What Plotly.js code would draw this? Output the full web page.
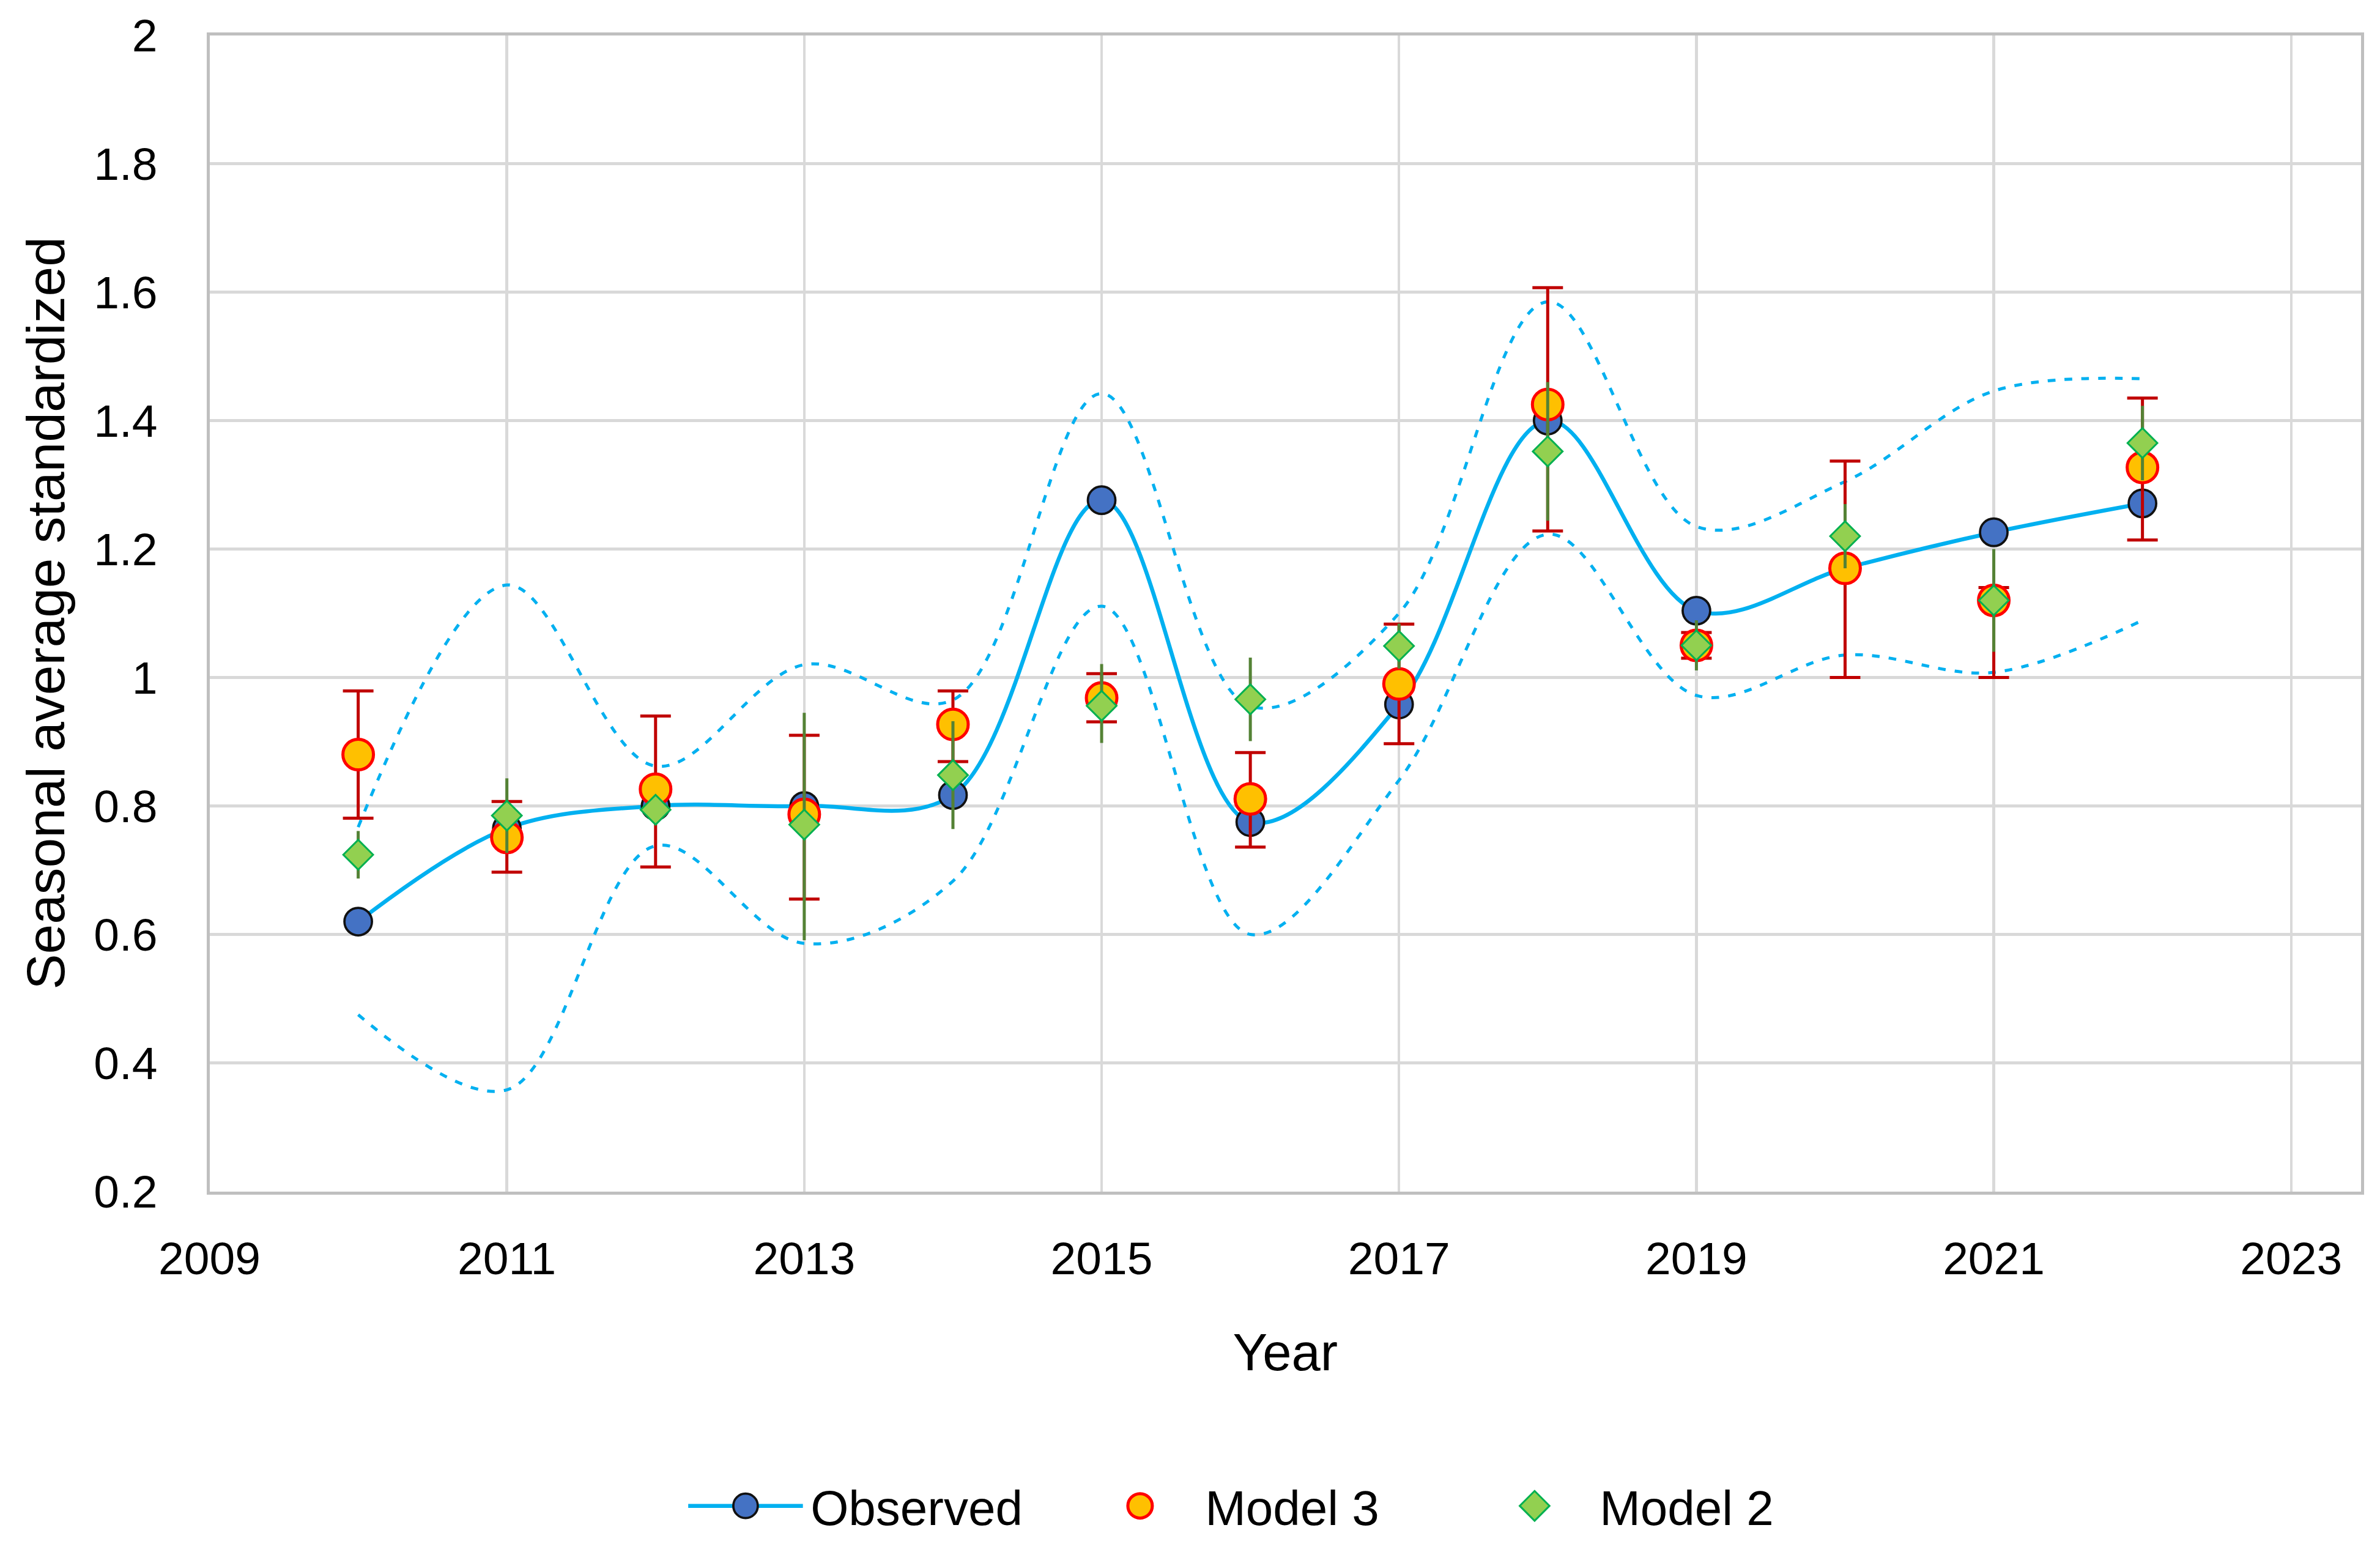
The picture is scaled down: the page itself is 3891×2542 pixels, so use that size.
<!DOCTYPE html>
<html>
<head>
<meta charset="utf-8">
<script src="https://cdn.plot.ly/plotly-3.0.1.min.js"></script>
<style>
  html, body { margin: 0; padding: 0; background: #ffffff; overflow: hidden; }
  #wrap { width: 3891px; height: 2542px; overflow: hidden; }
  #chart { transform: scale(2.5); transform-origin: 0 0; }
</style>
</head>
<body>
<div id="wrap"><div id="chart"></div></div>
<script>
// ---- data ----
const years = [2010, 2011, 2012, 2013, 2014, 2015, 2016, 2017, 2018, 2019, 2020, 2021, 2022];
const observed = [0.62, 0.765, 0.80, 0.80, 0.817, 1.276, 0.775, 0.958, 1.40, 1.104, 1.17, 1.226, 1.271];
const upperBand = [0.767, 1.144, 0.862, 1.02, 0.965, 1.442, 0.955, 1.10, 1.585, 1.235, 1.305, 1.446, 1.465];
const lowerBand = [0.475, 0.358, 0.738, 0.586, 0.683, 1.111, 0.60, 0.84, 1.223, 0.972, 1.035, 1.008, 1.089];
const model3 = [0.88, 0.751, 0.826, 0.787, 0.927, 0.968, 0.811, 0.99, 1.425, 1.05, 1.17, 1.12, 1.327];
const model3ErrPlus = [0.099, 0.056, 0.114, 0.123, 0.052, 0.038, 0.072, 0.093, 0.182, 0.02, 0.167, 0.02, 0.108];
const model3ErrMinus = [0.099, 0.054, 0.121, 0.132, 0.058, 0.037, 0.075, 0.093, 0.197, 0.02, 0.17, 0.12, 0.113];
const model2 = [0.724, 0.785, 0.794, 0.771, 0.848, 0.956, 0.966, 1.049, 1.352, 1.05, 1.22, 1.12, 1.365];
const model2ErrPlus = [0.037, 0.058, 0.02, 0.174, 0.084, 0.065, 0.065, 0.035, 0.108, 0.039, 0.05, 0.08, 0.058];
const model2ErrMinus = [0.037, 0.058, 0.02, 0.18, 0.084, 0.058, 0.065, 0.035, 0.108, 0.039, 0.05, 0.08, 0.058];
const seriesNames = ['Observed', 'Model 3', 'Model 2'];
const xTickVals = [2009, 2011, 2013, 2015, 2017, 2019, 2021, 2023];

const FONT = 'Liberation Sans, Arial, sans-serif';
const bandColor = '#00B0F0';

const traces = [
  { x: years, y: upperBand, type: 'scatter', mode: 'lines', showlegend: false, hoverinfo: 'skip',
    line: { color: bandColor, width: 2, dash: '5px,6px', shape: 'spline', smoothing: 1 } },
  { x: years, y: lowerBand, type: 'scatter', mode: 'lines', showlegend: false, hoverinfo: 'skip',
    line: { color: bandColor, width: 2, dash: '5px,6px', shape: 'spline', smoothing: 1 } },
  { x: years, y: observed, name: seriesNames[0], type: 'scatter', mode: 'lines+markers',
    line: { color: bandColor, width: 2.6, shape: 'spline', smoothing: 1 },
    marker: { symbol: 'circle', size: 18, color: '#4472C4', line: { color: '#111111', width: 1.5 } } },
  { x: years, y: model3, name: seriesNames[1], type: 'scatter', mode: 'markers',
    marker: { symbol: 'circle', size: 20, color: '#FFC000', line: { color: '#FF0000', width: 2 } },
    error_y: { type: 'data', symmetric: false, array: model3ErrPlus, arrayminus: model3ErrMinus,
      color: '#C00000', thickness: 2, width: 10 } },
  { x: years, y: model2, name: seriesNames[2], type: 'scatter', mode: 'markers',
    marker: { symbol: 'diamond', size: 15, color: '#92D050', line: { color: '#00B050', width: 1.2 } },
    error_y: { type: 'data', symmetric: false, array: model2ErrPlus, arrayminus: model2ErrMinus,
      color: '#548235', thickness: 2, width: 0 } }
];

const layout = {
  width: 1556.4, height: 1016.8,
  margin: { l: 136.8, r: 12.4, t: 22.5, b: 238, pad: 0, autoexpand: false },
  paper_bgcolor: '#ffffff', plot_bgcolor: '#ffffff',
  font: { family: FONT, color: '#000000', size: 30 },
  showlegend: true,
  xaxis: {
    range: [2009, 2023.47], tickmode: 'array', tickvals: xTickVals,
    ticktext: xTickVals.map(String),
    showgrid: true, gridcolor: '#D9D9D9', gridwidth: 1.8,
    showline: true, linecolor: '#BFBFBF', linewidth: 2, mirror: true,
    ticks: '', ticklabelstandoff: 16, zeroline: false, automargin: false,
    tickfont: { family: FONT, size: 30, color: '#000000' },
    title: { text: 'Year', font: { family: FONT, size: 34, color: '#000000' }, standoff: 34 }
  },
  yaxis: {
    range: [0.2, 2], tick0: 0.2, dtick: 0.2,
    showgrid: true, gridcolor: '#D9D9D9', gridwidth: 1.8,
    showline: true, linecolor: '#BFBFBF', linewidth: 2, mirror: true,
    ticks: '', ticklabelstandoff: 26, zeroline: false, automargin: false,
    tickfont: { family: FONT, size: 30, color: '#000000' },
    title: { text: 'Seasonal average standardized', font: { family: FONT, size: 35, color: '#000000' }, standoff: 8 }
  },
  legend: {
    orientation: 'h', x: 0.494, xanchor: 'center', y: -0.2723, yanchor: 'middle',
    font: { family: FONT, size: 32, color: '#000000' },
    itemwidth: 75, entrywidth: 168, entrywidthmode: 'pixels',
    bgcolor: 'rgba(0,0,0,0)', traceorder: 'normal'
  }
};

Plotly.newPlot('chart', traces, layout, { displayModeBar: false, staticPlot: true });
</script>
</body>
</html>
